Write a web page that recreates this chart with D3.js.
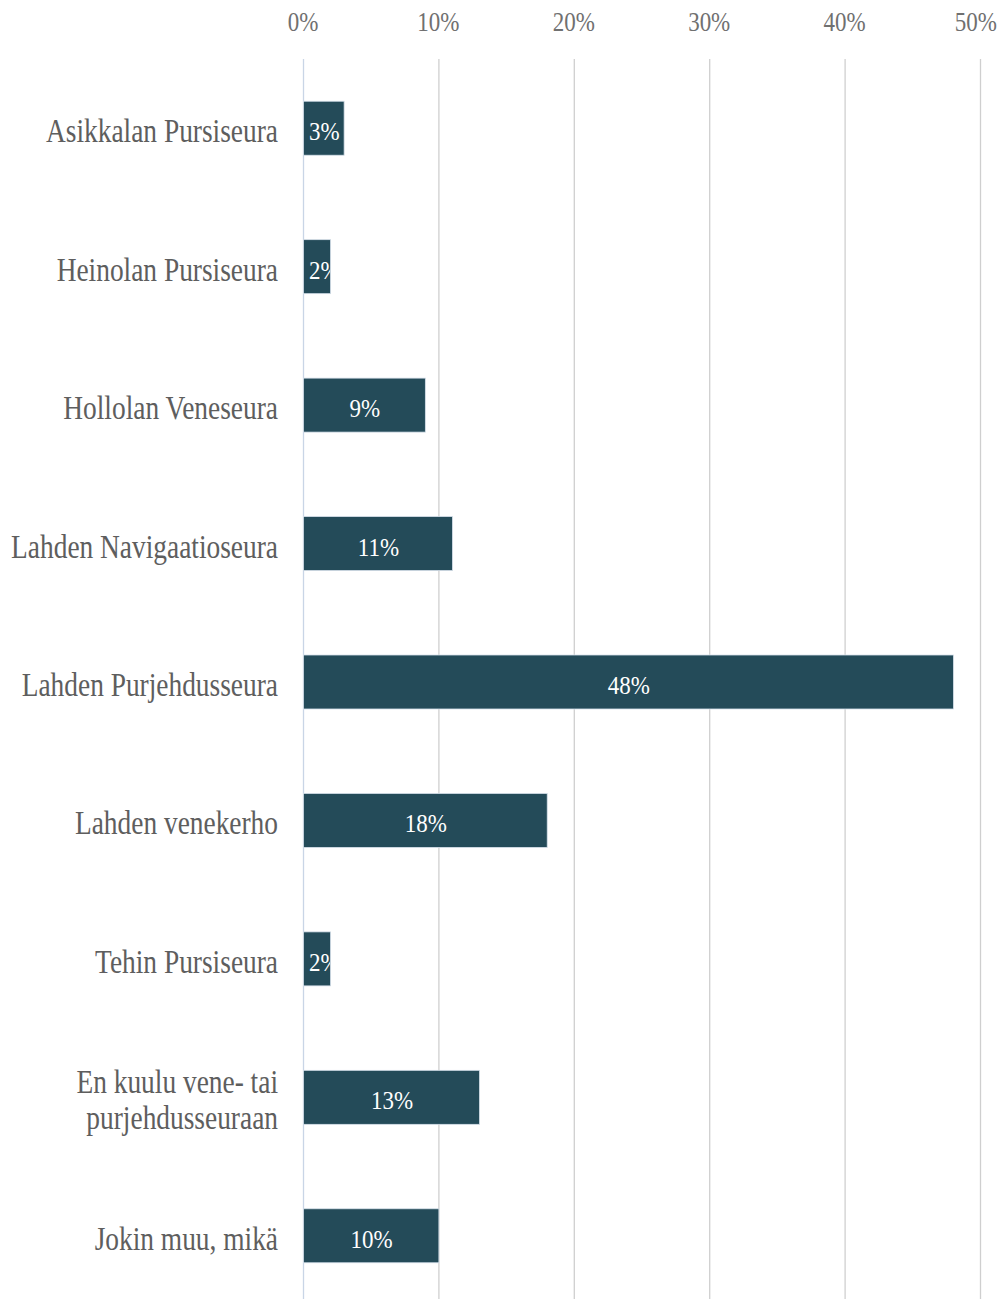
<!DOCTYPE html>
<html><head><meta charset="utf-8">
<script src="https://cdn.jsdelivr.net/npm/d3@7"></script>
<style>body{margin:0;background:#fff}svg{display:block}</style>
</head><body>
<svg id="c" width="999" height="1299"></svg>
<script>
const categories = [
  ["Asikkalan Pursiseura"],
  ["Heinolan Pursiseura"],
  ["Hollolan Veneseura"],
  ["Lahden Navigaatioseura"],
  ["Lahden Purjehdusseura"],
  ["Lahden venekerho"],
  ["Tehin Pursiseura"],
  ["En kuulu vene- tai", "purjehdusseuraan"],
  ["Jokin muu, mikä"]
];
const values = [3, 2, 9, 11, 48, 18, 2, 13, 10];
const tickValues = [0, 10, 20, 30, 40, 50];
const tickLabels = ["0%", "10%", "20%", "30%", "40%", "50%"];

const svg = d3.select("#c");
const W = 999, H = 1299;
const SY = 1.22;
const serif = "'Liberation Serif','Times New Roman',serif";

const x = d3.scaleLinear().domain([0, 50]).range([303, 980]);
const y = d3.scaleBand().domain(d3.range(categories.length)).range([59, 1305]).paddingInner(0.61).paddingOuter(0.305);

// gridlines
svg.append("g").selectAll("line").data(tickValues).join("line")
  .attr("x1", d => x(d) + 0.5).attr("x2", d => x(d) + 0.5)
  .attr("y1", 59).attr("y2", H)
  .attr("stroke", d => d === 0 ? "#c9d5e6" : "#cfcfcf").attr("stroke-width", 1.3);

// tick labels
const tl = svg.append("g").selectAll("text").data(tickValues).join("text")
  .attr("font-family", serif).attr("font-size", 23).attr("fill", "#707070")
  .attr("text-anchor", "middle")
  .text((d, i) => tickLabels[i]);
tl.each(function(d) {
  const w = this.getComputedTextLength();
  let cx = x(d);
  if (cx + w / 2 > W - 2) cx = W - 2 - w / 2;
  d3.select(this).attr("transform", `translate(${cx},31) scale(1,${SY})`);
});

// clip paths for bar labels
const defs = svg.append("defs");
defs.selectAll("clipPath").data(values).join("clipPath")
  .attr("id", (d, i) => "cp" + i)
  .append("rect")
  .attr("x", x(0)).attr("y", (d, i) => y(i))
  .attr("width", d => x(d) - x(0)).attr("height", y.bandwidth());

// bars
svg.append("g").selectAll("rect").data(values).join("rect")
  .attr("x", x(0) + 0.5).attr("y", (d, i) => y(i))
  .attr("width", d => x(d) - x(0)).attr("height", y.bandwidth())
  .attr("fill", "#244b59").attr("stroke", "#d6e0ea").attr("stroke-width", 0.8);

// bar labels
const bl = svg.append("g");
values.forEach((d, i) => {
  const g = bl.append("g").attr("clip-path", `url(#cp${i})`);
  const t = g.append("text")
    .attr("font-family", serif).attr("font-size", 23).attr("fill", "#ffffff")
    .attr("text-anchor", "start")
    .text(d + "%");
  const w = t.node().getComputedTextLength();
  const bw = x(d) - x(0);
  let sx = (x(0) + x(d)) / 2 + 1 - w / 2;
  if (sx < x(0) + 6) sx = x(0) + 6;
  t.attr("transform", `translate(${sx},${y(i) + y.bandwidth() / 2 + 12}) scale(1,1.1)`);
});

// category labels
const cl = svg.append("g");
categories.forEach((lines, i) => {
  const cy = y(i) + y.bandwidth() / 2;
  const n = lines.length;
  lines.forEach((ln, j) => {
    const off = (j - (n - 1) / 2) * 36;
    cl.append("text")
      .attr("font-family", serif).attr("font-size", 27.4).attr("fill", "#5e5e5e")
      .attr("text-anchor", "end")
      .attr("transform", `translate(278,${cy + off + 14}) scale(1,${SY})`)
      .text(ln);
  });
});
</script>
</body></html>
